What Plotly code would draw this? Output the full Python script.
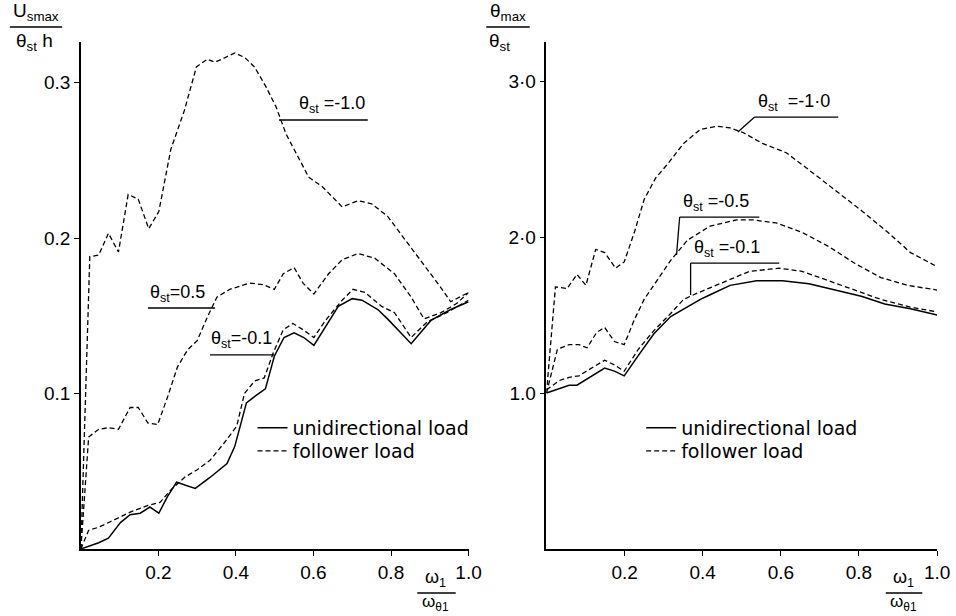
import plotly.graph_objects as go

# ---------------- data: left panel (U_smax / (theta_st h)) ----------------
L_m10_x = [0, 0.023, 0.046, 0.071, 0.097, 0.122, 0.148, 0.175, 0.201, 0.232,
           0.267, 0.298, 0.326, 0.346, 0.372, 0.397, 0.423, 0.448, 0.478, 0.504,
           0.529, 0.560, 0.588, 0.623, 0.674, 0.715, 0.750, 0.791, 0.852, 0.893,
           0.929, 0.954, 1.0]
L_m10_y = [0, 0.188, 0.189, 0.203, 0.191, 0.228, 0.225, 0.206, 0.217, 0.257,
           0.282, 0.310, 0.315, 0.313, 0.316, 0.319, 0.316, 0.310, 0.297, 0.284,
           0.267, 0.252, 0.239, 0.233, 0.220, 0.224, 0.222, 0.214, 0.194, 0.180,
           0.168, 0.159, 0.165]

L_05_x = [0, 0.020, 0.046, 0.071, 0.097, 0.127, 0.148, 0.173, 0.198, 0.224,
          0.249, 0.275, 0.300, 0.326, 0.351, 0.384, 0.435, 0.471, 0.499, 0.522,
          0.550, 0.573, 0.601, 0.639, 0.674, 0.715, 0.758, 0.809, 0.852, 0.885,
          0.929, 0.970, 1.0]
L_05_y = [0, 0.072, 0.077, 0.078, 0.077, 0.091, 0.091, 0.081, 0.080, 0.098,
          0.117, 0.128, 0.134, 0.149, 0.162, 0.167, 0.171, 0.170, 0.167, 0.177,
          0.181, 0.171, 0.164, 0.177, 0.186, 0.190, 0.187, 0.177, 0.162, 0.148,
          0.152, 0.158, 0.165]

L_m01f_x = [0, 0.020, 0.046, 0.071, 0.104, 0.130, 0.173, 0.204, 0.232, 0.267,
            0.300, 0.333, 0.369, 0.402, 0.422, 0.448, 0.473, 0.496, 0.522, 0.547,
            0.573, 0.601, 0.631, 0.674, 0.702, 0.733, 0.776, 0.809, 0.852, 0.893,
            0.944, 1.0]
L_m01f_y = [0, 0.012, 0.014, 0.017, 0.021, 0.024, 0.028, 0.030, 0.038, 0.046,
            0.051, 0.057, 0.068, 0.079, 0.100, 0.108, 0.110, 0.126, 0.141, 0.145,
            0.141, 0.136, 0.147, 0.160, 0.167, 0.165, 0.156, 0.152, 0.136, 0.146,
            0.152, 0.160]

L_m01u_x = [0, 0.046, 0.071, 0.102, 0.127, 0.153, 0.178, 0.201, 0.224, 0.247,
            0.270, 0.295, 0.333, 0.377, 0.397, 0.427, 0.453, 0.476, 0.499, 0.524,
            0.550, 0.575, 0.601, 0.631, 0.664, 0.700, 0.725, 0.766, 0.791, 0.852,
            0.903, 0.954, 1.0]
L_m01u_y = [0, 0.004, 0.007, 0.017, 0.022, 0.023, 0.027, 0.023, 0.034, 0.043,
            0.041, 0.039, 0.046, 0.055, 0.066, 0.094, 0.099, 0.103, 0.124, 0.136,
            0.139, 0.136, 0.131, 0.143, 0.156, 0.161, 0.160, 0.154, 0.148, 0.132,
            0.147, 0.154, 0.159]

# ---------------- data: right panel (theta_max / theta_st) ----------------
R_m10_x = [0, 0.023, 0.053, 0.078, 0.101, 0.126, 0.149, 0.177, 0.199, 0.225,
           0.250, 0.280, 0.311, 0.351, 0.394, 0.437, 0.470, 0.503, 0.553, 0.614,
           0.672, 0.740, 0.806, 0.874, 0.932, 1.0]
R_m10_y = [1.0, 1.68, 1.67, 1.76, 1.69, 1.92, 1.90, 1.80, 1.84, 2.03,
           2.24, 2.38, 2.47, 2.60, 2.69, 2.71, 2.70, 2.67, 2.60, 2.54,
           2.43, 2.30, 2.17, 2.03, 1.90, 1.81]

R_m05_x = [0, 0.028, 0.058, 0.083, 0.104, 0.129, 0.149, 0.174, 0.199, 0.225,
           0.250, 0.318, 0.361, 0.419, 0.487, 0.528, 0.588, 0.654, 0.722, 0.790,
           0.856, 0.924, 1.0]
R_m05_y = [1.0, 1.28, 1.31, 1.31, 1.29, 1.39, 1.42, 1.33, 1.31, 1.47,
           1.60, 1.85, 1.98, 2.07, 2.11, 2.11, 2.09, 2.03, 1.94, 1.83,
           1.74, 1.69, 1.66]

R_m01f_x = [0, 0.033, 0.058, 0.083, 0.109, 0.149, 0.174, 0.199, 0.235, 0.275,
            0.318, 0.351, 0.386, 0.452, 0.520, 0.596, 0.654, 0.722, 0.790, 0.856,
            0.932, 1.0]
R_m01f_y = [1.02, 1.08, 1.10, 1.11, 1.15, 1.21, 1.18, 1.14, 1.28, 1.40,
            1.51, 1.60, 1.64, 1.71, 1.78, 1.80, 1.78, 1.72, 1.66, 1.60,
            1.55, 1.52]

R_m01u_x = [0, 0.033, 0.058, 0.078, 0.109, 0.149, 0.174, 0.199, 0.235, 0.275,
            0.318, 0.351, 0.394, 0.419, 0.470, 0.538, 0.604, 0.672, 0.740, 0.806,
            0.866, 0.932, 1.0]
R_m01u_y = [1.00, 1.03, 1.05, 1.05, 1.10, 1.16, 1.14, 1.11, 1.24, 1.38,
            1.49, 1.54, 1.60, 1.63, 1.69, 1.72, 1.72, 1.70, 1.66, 1.62,
            1.57, 1.54, 1.50]

X_TICKS = [0.2, 0.4, 0.6, 0.8, 1.0]
X_TICKTEXT = ["0.2", "0.4", "0.6", "0.8", "1.0"]
L_Y_TICKS = [0.1, 0.2, 0.3]
L_Y_TICKTEXT = ["0.1", "0.2", "0.3"]
R_Y_TICKS = [1.0, 2.0, 3.0]
R_Y_TICKTEXT = ["1.0", "2·0", "3·0"]

LEG_SOLID = "unidirectional load"
LEG_DASH = "follower load"

W, H = 956, 616
FONT = "Liberation Sans"
DASH = "5px,3px"


def px(x):
    return x / W


def py(y):
    return (H - y) / H


fig = go.Figure()


def add(xs, ys, xa, ya, dashed, name=None, legend="legend"):
    fig.add_trace(go.Scatter(
        x=xs, y=ys, mode="lines", xaxis=xa, yaxis=ya,
        line=dict(color="black", width=1.3 if dashed else 1.5,
                  dash=DASH if dashed else "solid"),
        name=name if name else "", showlegend=name is not None,
        legend=legend, hoverinfo="skip"))


# left panel
add(L_m10_x, L_m10_y, "x", "y", True)
add(L_05_x, L_05_y, "x", "y", True)
add(L_m01u_x, L_m01u_y, "x", "y", False, LEG_SOLID, "legend")
add(L_m01f_x, L_m01f_y, "x", "y", True, LEG_DASH, "legend3")
# right panel
add(R_m10_x, R_m10_y, "x2", "y2", True)
add(R_m05_x, R_m05_y, "x2", "y2", True)
add(R_m01u_x, R_m01u_y, "x2", "y2", False, LEG_SOLID, "legend2")
add(R_m01f_x, R_m01f_y, "x2", "y2", True, LEG_DASH, "legend4")

y_dom = [py(549), py(42)]
axis_common = dict(showline=True, linecolor="black", linewidth=1.5, ticks="outside",
                   ticklen=5, tickwidth=1.2, tickcolor="black", showgrid=False,
                   zeroline=False, tickfont=dict(family=FONT, size=19, color="black"),
                   fixedrange=True)


def leg(xp, yp):
    return dict(x=px(xp), y=py(yp), xanchor="left", yanchor="middle",
                bgcolor="rgba(0,0,0,0)",
                font=dict(family="DejaVu Sans", size=19, color="black"))


fig.update_layout(
    width=W, height=H, margin=dict(l=0, r=0, t=0, b=0),
    paper_bgcolor="white", plot_bgcolor="white",
    xaxis=dict(domain=[px(82), px(475)], range=[0, 1.0], anchor="y",
               tickvals=X_TICKS, ticktext=X_TICKTEXT, **axis_common),
    yaxis=dict(domain=y_dom, range=[0, (549 - 42) / 1555], anchor="x",
               tickvals=L_Y_TICKS, ticktext=L_Y_TICKTEXT, **axis_common),
    xaxis2=dict(domain=[px(554), px(950)], range=[0, 1.0], anchor="y2",
                tickvals=X_TICKS, ticktext=X_TICKTEXT, **axis_common),
    yaxis2=dict(domain=y_dom, range=[0, (549 - 42) / 156], anchor="x2",
                tickvals=R_Y_TICKS, ticktext=R_Y_TICKTEXT, **axis_common),
    legend=leg(256, 428),
    legend3=leg(256, 451),
    legend2=leg(650, 428),
    legend4=leg(650, 451),
)

ann = []
shapes = []


def label(text, x, y, xr, yr, size=18, xanchor="left", yanchor="bottom"):
    ann.append(dict(text=text, x=x, y=y, xref=xr, yref=yr, showarrow=False,
                    xanchor=xanchor, yanchor=yanchor, borderpad=0,
                    font=dict(family=FONT, size=size, color="black")))


def seg(x0, y0, x1, y1, xr, yr, w=1.3):
    shapes.append(dict(type="line", x0=x0, y0=y0, x1=x1, y1=y1, xref=xr, yref=yr,
                       line=dict(color="black", width=w)))


# left curve labels (axis coords)
label("θ<sub>st</sub> =-1.0", 0.560, 0.2775, "x", "y")
seg(0.511, 0.2759, 0.740, 0.2759, "x", "y")
label("θ<sub>st</sub>=0.5", 0.175, 0.1565, "x", "y")
seg(0.173, 0.155, 0.346, 0.155, "x", "y")
label("θ<sub>st</sub>=-0.1", 0.333, 0.1265, "x", "y")
seg(0.333, 0.1248, 0.499, 0.1248, "x", "y")

# right curve labels
label("θ<sub>st</sub>  =-1·0", 0.540, 2.78, "x2", "y2")
seg(0.490, 2.673, 0.533, 2.769, "x2", "y2")
seg(0.533, 2.769, 0.747, 2.769, "x2", "y2")
label("θ<sub>st</sub> =-0.5", 0.348, 2.14, "x2", "y2")
seg(0.333, 1.885, 0.341, 2.128, "x2", "y2")
seg(0.341, 2.128, 0.545, 2.128, "x2", "y2")
label("θ<sub>st</sub> =-0.1", 0.374, 1.845, "x2", "y2")
seg(0.369, 1.628, 0.369, 1.833, "x2", "y2")
seg(0.369, 1.833, 0.596, 1.833, "x2", "y2")

# axis titles as fractions (paper coords)
label("U<sub>smax</sub>", px(36), py(25), "paper", "paper", size=19, xanchor="center")
seg(px(10), py(27), px(63), py(27), "paper", "paper", w=1.5)
label("θ<sub>st</sub> h", px(35), py(29), "paper", "paper", size=19, xanchor="center",
      yanchor="top")

label("θ<sub>max</sub>", px(515), py(25), "paper", "paper", size=19, xanchor="center")
seg(px(493), py(27), px(537), py(27), "paper", "paper", w=1.5)
label("θ<sub>st</sub>", px(495), py(29), "paper", "paper", size=19, xanchor="left",
      yanchor="top")

for cx, x0, x1 in [(442, 423, 462), (916, 898, 935)]:
    label("ω<sub>1</sub>", px(cx), py(591), "paper", "paper", size=18, xanchor="center")
    seg(px(x0), py(593), px(x1), py(593), "paper", "paper", w=1.5)
    label("ω<sub>θ1</sub>", px(cx), py(615), "paper", "paper", size=17,
          xanchor="center", yanchor="bottom")

fig.update_layout(annotations=ann, shapes=shapes)

fig.write_html("out.html")
